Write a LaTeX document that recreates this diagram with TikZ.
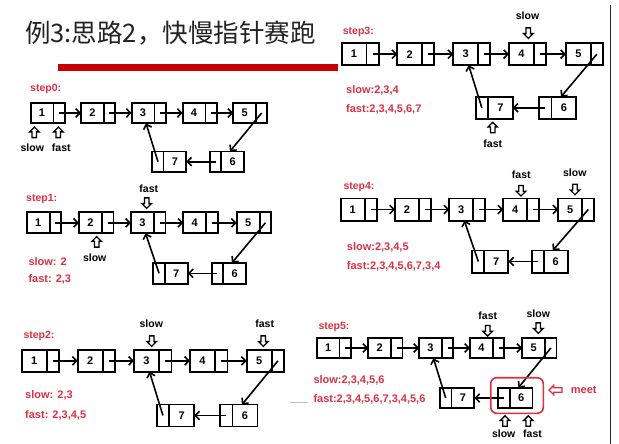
\documentclass[tikz,border=0pt]{standalone}
\usepackage{fontspec}
\setmainfont{Liberation Sans}
\newfontfamily\cjk{Noto Sans CJK SC}
\usetikzlibrary{shapes.arrows,arrows.meta,calc}
\definecolor{lblred}{RGB}{222,48,68}
\definecolor{barred}{RGB}{196,0,0}
\definecolor{titlegray}{RGB}{34,34,34}
\newcommand\cellsize[2]{\pgfmathsetmacro\DW{#1*2/3}\pgfmathsetmacro\PW{#1/3}\def\HH{#2}}
\newcommand\rnode[4]{%
  \node[datacell, minimum width=\DW pt, minimum height=\HH pt, anchor=west] (#1) at (#2,#3) {#4};
  \node[ptrcell, minimum width=\PW pt, minimum height=\HH pt, anchor=west] (#1p) at (#1.east) {};}
\newcommand\lnode[4]{%
  \node[ptrcell, minimum width=\PW pt, minimum height=\HH pt, anchor=west] (#1p) at (#2,#3) {};
  \node[datacell, minimum width=\DW pt, minimum height=\HH pt, anchor=west] (#1) at (#1p.east) {#4};}
\newcommand\toprow[7]{%
  \rnode{#11}{#3}{#2}{1}\rnode{#12}{#4}{#2}{2}\rnode{#13}{#5}{#2}{3}%
  \rnode{#14}{#6}{#2}{4}\rnode{#15}{#7}{#2}{5}}
\newcommand\botrow[4]{\lnode{#17}{#3}{#2}{7}\lnode{#16}{#4}{#2}{6}}
\newcommand\steplinks[1]{%
  \draw[link] (#11p.center) -- (#12.west);
  \draw[link] (#12p.center) -- (#13.west);
  \draw[link] (#13p.center) -- (#14.west);
  \draw[link] (#14p.center) -- (#15.west);
  \draw[link] (#15p.center) -- ($(#16.north west)!0.38!(#16.north east)$);
  \draw[link] (#16p.center) -- (#17.east);
  \draw[link] (#17p.center) -- ([xshift=3pt]#13.south);}
\tikzset{
  cell/.style={draw=black, line width=1.7pt, inner sep=0pt, outer sep=0pt},
  datacell/.style={cell, font=\bfseries\fontsize{11}{12}\selectfont},
  ptrcell/.style={cell},
  link/.style={draw=black, line width=1.6pt, -{Straight Barb[length=4.2pt,width=8.5pt]}},
  redlbl/.style={text=lblred, font=\bfseries\fontsize{11}{13}\selectfont, anchor=west, inner sep=0pt},
  steplbl/.style={redlbl, font=\bfseries\fontsize{10.5}{13}\selectfont},
  ptrlbl/.style={text=black, font=\bfseries\fontsize{10.5}{12}\selectfont, inner sep=0pt},
  harrow/.style={single arrow, draw=black, line width=1.3pt, inner sep=1.6pt,
    minimum height=10.5pt, minimum width=9.5pt, single arrow head extend=2.5pt},
  hup/.style={harrow, shape border rotate=90},
  hdown/.style={harrow, shape border rotate=270},
  meetbox/.style={draw=lblred, line width=1.6pt, rounded corners=6pt, inner sep=0pt}
}
\begin{document}
\begin{tikzpicture}[x=1pt,y=-1pt]
\useasboundingbox (0,0) rectangle (619,444);
\fill[white] (0,0) rectangle (619,444);
% title
\node[anchor=west, inner sep=0pt, font=\cjk\fontsize{25.5}{30}\selectfont, text=titlegray] (title) at (25,33.3) {例3:思路2，快慢指针赛跑};
\fill[barred] (58.3,64.3) rectangle (338.3,71);
\draw[black!85, line width=1pt] (610.7,5) -- (610.7,444);
\draw[gray!50, line width=0.6pt] (290,402.5) -- (308,402.5);

% ---------- step0
\cellsize{34}{20.6}
\toprow{a}{113}{30.7}{81}{131.7}{182.7}{233.3}
\botrow{a}{161.7}{152.3}{210}
\steplinks{a}
\node[steplbl] (a0) at (30,89) {step0:};
\node[hup] (aar1) at (34.3,133.5) {};
\node[hup] (aar2) at (58.3,133.5) {};
\node[ptrlbl] (as) at (32.3,147.7) {slow};
\node[ptrlbl] (af) at (61.3,147.7) {fast};

% ---------- step1
\cellsize{34.5}{21}
\toprow{b}{222.8}{26.7}{79}{131}{183.3}{236.7}
\botrow{b}{273.3}{153.3}{211.7}
\steplinks{b}
\node[steplbl] (b0) at (26,199.3) {step1:};
\node[ptrlbl] (bf) at (148.8,188.3) {fast};
\node[hdown] (bar1) at (146.7,202) {};
\node[hup] (bar2) at (96.7,243) {};
\node[ptrlbl] (bs) at (94.7,257.7) {slow};
\node[redlbl] (bt1) at (28.3,261.7) {slow: 2};
\node[redlbl] (bt2) at (28.3,279) {fast: 2,3};

% ---------- step2
\cellsize{37.5}{22}
\toprow{c}{360.8}{21.7}{77.7}{134}{190}{246.7}
\botrow{c}{415.5}{156.7}{220}
\steplinks{c}
\node[steplbl] (c0) at (23.3,336) {step2:};
\node[ptrlbl] (cs) at (151.3,323.3) {slow};
\node[hdown] (car1) at (151.7,340) {};
\node[ptrlbl] (cf) at (264.7,324) {fast};
\node[hdown] (car2) at (263.3,340) {};
\node[redlbl] (ct1) at (25,395.7) {slow: 2,3};
\node[redlbl] (ct2) at (25,415) {fast: 2,3,4,5};

% ---------- step3
\cellsize{37}{22}
\toprow{d}{54.2}{341.7}{397.3}{453.3}{509}{566}
\botrow{d}{107.8}{475.7}{539.3}
\steplinks{d}
\node[steplbl] (d0) at (342.7,31.7) {step3:};
\node[ptrlbl] (ds) at (527.5,16) {slow};
\node[hdown] (dar1) at (528.3,32) {};
\node[hup] (dar2) at (492.7,128.7) {};
\node[ptrlbl] (df) at (492.8,144) {fast};
\node[redlbl] (dt1) at (346,90) {slow:2,3,4};
\node[redlbl] (dt2) at (346,109) {fast:2,3,4,5,6,7};

% ---------- step4
\cellsize{36}{22.3}
\toprow{e}{209.5}{340.7}{395}{449.3}{503.3}{558.3}
\botrow{e}{261.5}{472.3}{531.7}
\steplinks{e}
\node[steplbl] (e0) at (343.3,187.3) {step4:};
\node[ptrlbl] (ef) at (521.3,175) {fast};
\node[hdown] (ear1) at (521,189.7) {};
\node[ptrlbl] (es) at (574.8,172.3) {slow};
\node[hdown] (ear2) at (575,188.3) {};
\node[redlbl] (et1) at (346.7,247.3) {slow:2,3,4,5};
\node[redlbl] (et2) at (346.7,266) {fast:2,3,4,5,6,7,3,4};

% ---------- step5
\cellsize{34.3}{20.6}
\toprow{f}{348}{316.7}{368.3}{419}{470}{522.3}
\botrow{f}{398}{440}{498.3}
\steplinks{f}
\node[steplbl] (f0) at (318.3,327.3) {step5:};
\node[ptrlbl] (ff) at (487.8,315.7) {fast};
\node[hdown] (far1) at (487.7,329.7) {};
\node[ptrlbl] (fs) at (538.3,313.3) {slow};
\node[hdown] (far2) at (538.3,327) {};
\node[hup] (far3) at (505,422.2) {};
\node[hup] (far4) at (528.3,422.2) {};
\node[ptrlbl] (fs2) at (503.7,434) {slow};
\node[ptrlbl] (ff2) at (532.5,434) {fast};
\node[meetbox, minimum width=52.6pt, minimum height=35.6pt] (meet) at (517,395.5) {};
\node[harrow, draw=lblred, shape border rotate=180, minimum height=13pt] (mar) at (556.7,390) {};
\node[ptrlbl, text=lblred, font=\bfseries\fontsize{11}{13}\selectfont] (mt) at (583.7,390) {meet};
\node[redlbl] (ft1) at (313.3,380.7) {slow:2,3,4,5,6};
\node[redlbl] (ft2) at (313.3,399) {fast:2,3,4,5,6,7,3,4,5,6};
\end{tikzpicture}
\end{document}
